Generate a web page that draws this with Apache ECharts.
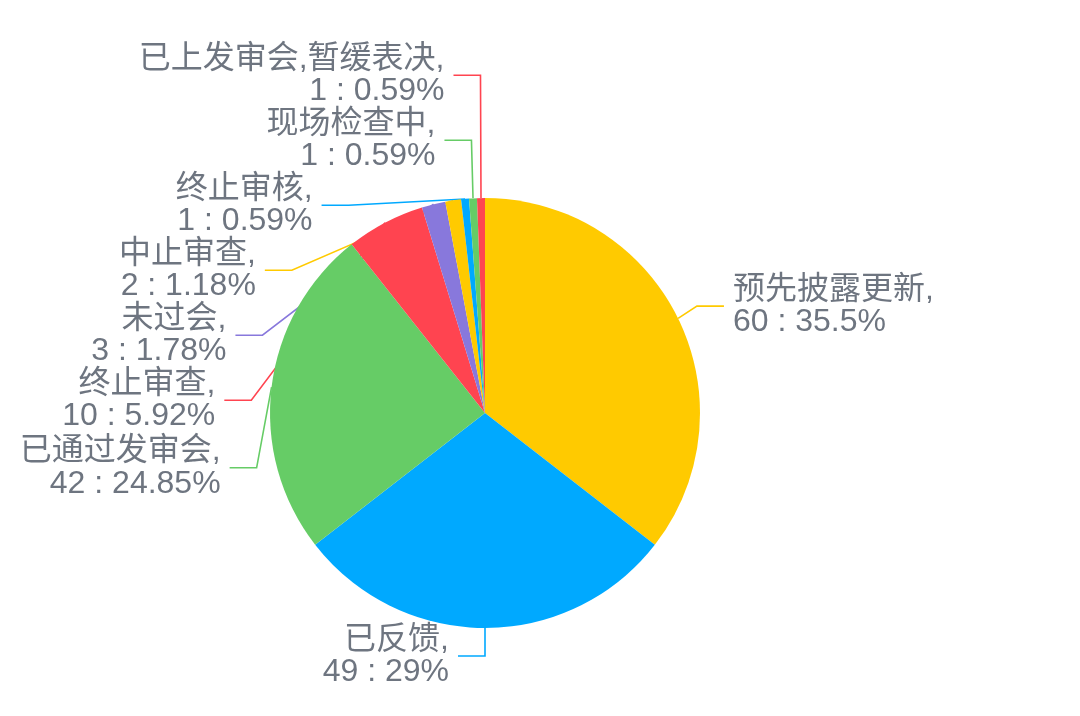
<!DOCTYPE html>
<html>
<head>
<meta charset="utf-8">
<script src="https://cdn.jsdelivr.net/npm/echarts@6/dist/echarts.min.js"></script>
<style>
  * { margin: 0; padding: 0; }
  body { background: #fff; }
  #chart-container { width: 1080px; height: 716px; }
</style>
</head>
<body>
<div id="chart-container"></div>
<script>
  var names = ['预先披露更新', '已反馈', '已通过发审会', '终止审查', '未过会', '中止审查', '终止审核', '现场检查中', '已上发审会,暂缓表决']
  var counts = [60, 49, 42, 10, 3, 2, 1, 1, 1]
  var palette = ['#FFCA00', '#00A9FF', '#66CC66', '#FF4450', '#8878DC']

  var cx = 485, cy = 413, r = 215
  var lineLen = 28, lineLen2 = 27, textGap = 9
  var fontSize = 32, lineH = 32.5

  // label placement in the old (echarts 4) pie style: overlapping labels are
  // pushed down and the ones above pulled up by half, then x follows an ellipse
  function oldPieLabels() {
    var sum = counts.reduce(function (a, b) { return a + b }, 0)
    var unit = Math.PI / sum * 2
    var cur = -90 * Math.PI / 180
    var list = []
    counts.forEach(function (v, i) {
      var a0 = cur, a1 = cur + v * unit
      cur = a1
      var mid = (a0 + a1) / 2
      var dx = Math.cos(mid), dy = Math.sin(mid)
      var x1 = cx + r * dx, y1 = cy + r * dy
      var x2 = x1 + dx * lineLen, y2 = y1 + dy * lineLen
      var x3 = x2 + (dx < 0 ? -1 : 1) * lineLen2
      list.push({
        idx: i,
        x: x3 + (dx < 0 ? -textGap : textGap),
        y: y2,
        height: lineH * 2,
        align: dx > 0 ? 'left' : 'right',
        pts: [[x1, y1], [x2, y2], [x3, y2]]
      })
    })
    var left = [], right = []
    list.forEach(function (l) { (l.x < cx ? left : right).push(l) })
    adjustSide(right, 1)
    adjustSide(left, -1)
    list.forEach(function (l) {
      var dist = l.pts[1][0] - l.pts[2][0]
      l.pts[2][0] = l.x < cx ? l.x + textGap : l.x - textGap
      l.pts[1][0] = l.pts[2][0] + dist
      l.pts[1][1] = l.pts[2][1] = l.y
    })
    return list
  }

  function adjustSide(list, dir) {
    var len = list.length
    list.sort(function (a, b) { return a.y - b.y })
    function shiftDown(start, end, delta) {
      for (var j = start; j < end; j++) {
        list[j].y += delta
        if (j > start && j + 1 < end && list[j + 1].y > list[j].y + list[j].height) {
          shiftUp(j, delta / 2)
          return
        }
      }
      shiftUp(end - 1, delta / 2)
    }
    function shiftUp(end, delta) {
      for (var j = end; j >= 0; j--) {
        list[j].y -= delta
        if (j > 0 && list[j].y > list[j - 1].y + list[j - 1].height) break
      }
    }
    function changeX(sub, isDown) {
      var lastDX = isDown ? Number.MAX_VALUE : 0
      for (var i = 0; i < sub.length; i++) {
        var dyAbs = Math.abs(sub[i].y - cy)
        var dX = dyAbs < r + lineLen
          ? Math.sqrt(Math.pow(r + lineLen + lineLen2, 2) - dyAbs * dyAbs)
          : Math.abs(sub[i].x - cx)
        if (isDown && dX >= lastDX) dX = lastDX - 10
        if (!isDown && dX <= lastDX) dX = lastDX + 10
        sub[i].x = cx + dX * dir
        lastDX = dX
      }
    }
    var lastY = 0
    for (var i = 0; i < len; i++) {
      var delta = list[i].y - lastY
      if (delta < 0) shiftDown(i, len, -delta)
      lastY = list[i].y + list[i].height
    }
    var up = [], down = []
    list.forEach(function (l) { (l.y >= cy ? down : up).push(l) })
    changeX(up, false)
    changeX(down, true)
  }

  var labelPos = oldPieLabels()
  var posByIdx = {}
  labelPos.forEach(function (l) { posByIdx[l.idx] = l })

  var chartDom = document.getElementById('chart-container')
  var myChart = echarts.init(chartDom, null, { renderer: 'canvas' })

  var pieData = names.map(function (n, i) {
    return { name: n, value: counts[i] }
  })

  var option = {
    animation: false,
    color: palette,
    series: [
      {
        type: 'pie',
        center: [cx, cy],
        radius: r,
        startAngle: 90,
        avoidLabelOverlap: false,
        data: pieData,
        label: {
          formatter: '{b},\n{c} : {d}%',
          fontSize: fontSize,
          lineHeight: lineH,
          color: '#6E7580',
          fontFamily: '"Liberation Sans", "Noto Sans CJK SC", sans-serif'
        },
        labelLine: {
          length: lineLen,
          length2: lineLen2,
          lineStyle: { width: 1.6 }
        },
        labelLayout: function (params) {
          var l = posByIdx[params.dataIndex]
          return {
            x: l.x,
            y: l.y,
            align: l.align,
            verticalAlign: 'middle',
            labelLinePoints: l.pts
          }
        }
      }
    ]
  }
  myChart.setOption(option)
  window.addEventListener('resize', myChart.resize)
</script>
</body>
</html>
